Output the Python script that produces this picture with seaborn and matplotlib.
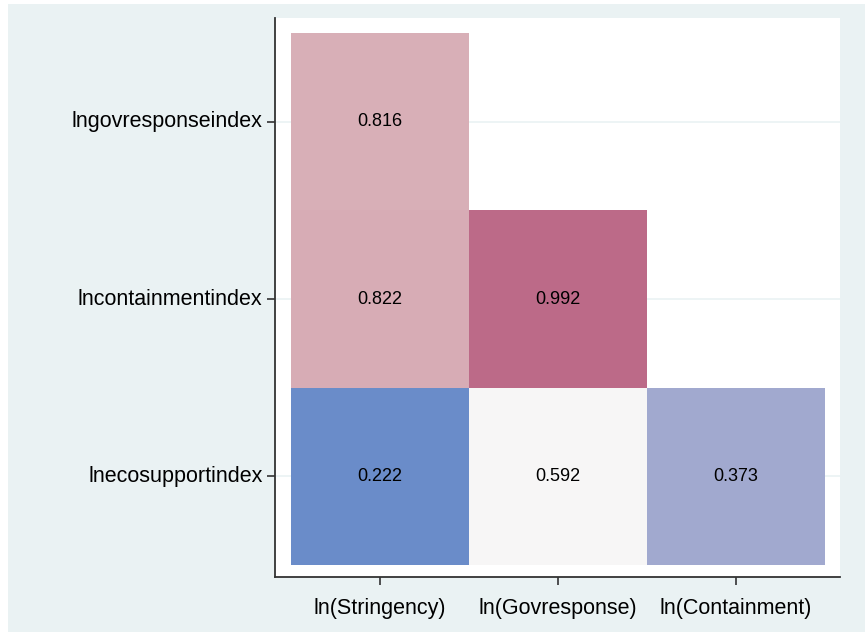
import matplotlib
matplotlib.use("Agg")
import matplotlib.pyplot as plt
from matplotlib.colors import LinearSegmentedColormap
from matplotlib.patches import Rectangle
import numpy as np
import pandas as pd
import seaborn as sns

plt.rcParams['font.family'] = ['Liberation Sans', 'DejaVu Sans']

# correlation values (lower triangle)
row_labels = ['lngovresponseindex', 'lncontainmentindex', 'lnecosupportindex']
col_labels = ['ln(Stringency)', 'ln(Govresponse)', 'ln(Containment)']
row_gov = [0.816, np.nan, np.nan]
row_cont = [0.822, 0.992, np.nan]
row_eco = [0.222, 0.592, 0.373]

df = pd.DataFrame([row_gov, row_cont, row_eco], index=row_labels, columns=col_labels)

# diverging blue - white - pink palette
cmap = LinearSegmentedColormap.from_list('bwp', [
    (0.0, '#6A8CC9'),
    (0.196, '#A1A9CF'),
    (0.479, '#F7F7F7'),
    (0.775, '#D8AEB6'),
    (1.0, '#BC6A88'),
])

fig = plt.figure(figsize=(8.65, 6.32), dpi=100)
fig.patches.append(Rectangle((8 / 865, 0), 1, (632 - 4) / 632, transform=fig.transFigure,
                             facecolor='#EAF2F3', edgecolor='none', zorder=-10))

ax = fig.add_axes([275 / 865, 55 / 632, (840 - 275) / 865, (577 - 18) / 632])
ax.set_facecolor('white')
ax.set_axisbelow(True)

sns.heatmap(df, ax=ax, cmap=cmap, vmin=0.222, vmax=0.992, cbar=False,
            annot=True, fmt='.3f', annot_kws={'color': 'black', 'fontsize': 13})

ax.set_xlim(-0.09, 3.084)
ax.set_ylim(3.067, -0.084)

for s in ['top', 'right']:
    ax.spines[s].set_visible(False)
for s in ['left', 'bottom']:
    ax.spines[s].set_visible(True)
    ax.spines[s].set_color('#333333')
    ax.spines[s].set_linewidth(1.3)

ax.tick_params(axis='both', length=6, width=1.2, color='#333333', labelsize=15.5,
               labelcolor='black', direction='out')
ax.tick_params(axis='x', pad=9)
ax.tick_params(axis='y', pad=3)
ax.set_yticklabels(row_labels, rotation=0)
ax.set_xticklabels(col_labels, rotation=0)
ax.set_xlabel('')
ax.set_ylabel('')
ax.grid(axis='y', color='#EAF2F3', linewidth=1.2)
ax.grid(axis='x', visible=False)

fig.savefig('out.png', dpi=100)
